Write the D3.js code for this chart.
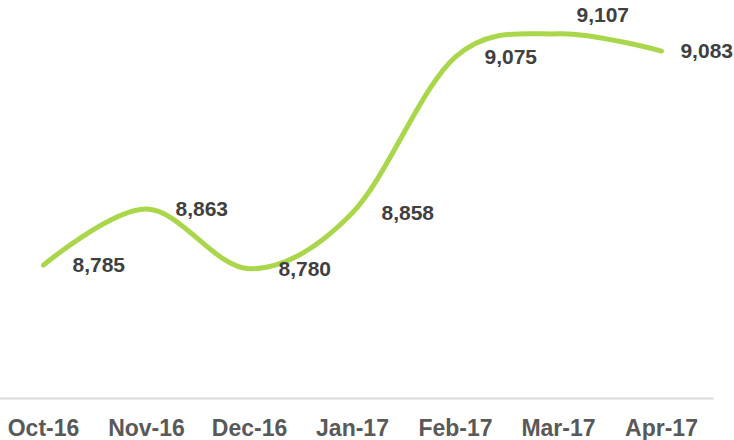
<!DOCTYPE html>
<html>
<head>
<meta charset="utf-8">
<script src="https://cdn.jsdelivr.net/npm/d3@7"></script>
<style>
  body { margin: 0; background: #fff; }
  svg { display: block; font-family: Arial, "Liberation Sans", sans-serif; }
</style>
</head>
<body>
<div class="chart"></div>
<script>
// Monthly values
var months = ["Oct-16", "Nov-16", "Dec-16", "Jan-17", "Feb-17", "Mar-17", "Apr-17"];
var values = [8785, 8863, 8780, 8858, 9075, 9107, 9083];

var svgWidth = 734;
var svgHeight = 440;
var axisY = 398;

var svg = d3.select(".chart")
  .append("svg")
  .attr("width", svgWidth)
  .attr("height", svgHeight);

// x: one band per month
var xScale = d3.scaleBand()
  .domain(months)
  .range([-8, 713]);

// y: value axis (hidden), 8600 sits on the axis line
var yScale = d3.scaleLinear()
  .domain([8600, 9200])
  .range([axisY, -33]);

var data = months.map(function (m, i) {
  return { month: m, value: values[i] };
});

var cx = function (d) { return xScale(d.month) + xScale.bandwidth() / 2; };

// bottom axis
var bottomAxis = d3.axisBottom(xScale).tickSize(0);
var xAxis = svg.append("g")
  .attr("transform", `translate(0, ${axisY})`)
  .call(bottomAxis);

xAxis.select(".domain")
  .attr("stroke", "#d9d9d9")
  .attr("stroke-width", 2);

xAxis.selectAll("text")
  .attr("y", 38)
  .attr("dy", 0)
  .attr("fill", "#595959")
  .attr("font-size", "23px")
  .attr("font-weight", "bold")
  .attr("font-family", "Arial, 'Liberation Sans', sans-serif");

// smoothed line
var line = d3.line()
  .x(cx)
  .y(function (d) { return yScale(d.value); })
  .curve(d3.curveCatmullRom.alpha(0));

svg.append("path")
  .datum(data)
  .attr("d", line)
  .attr("fill", "none")
  .attr("stroke", "#aad64b")
  .attr("stroke-width", 5)
  .attr("stroke-linecap", "round")
  .attr("stroke-linejoin", "round");

// data labels, to the right of each point; Mar label lifted above the line
var fmt = d3.format(",");
var labels = svg.selectAll(".dataLabel")
  .data(data)
  .enter()
  .append("text")
  .attr("class", "dataLabel")
  .text(function (d) { return fmt(d.value); })
  .attr("font-size", "21px")
  .attr("font-weight", "bold")
  .attr("fill", "#404040")
  .attr("dy", "0.35em")
  .attr("y", function (d) {
    var y = yScale(d.value);
    return d.month === "Mar-17" ? y - 19 : y;
  });

labels.attr("x", function (d) {
  var w = this.getComputedTextLength();
  var x = cx(d) + (d.month === "Mar-17" ? 18 : 29);
  return Math.min(x, svgWidth - 1 - w);
});
</script>
</body>
</html>
